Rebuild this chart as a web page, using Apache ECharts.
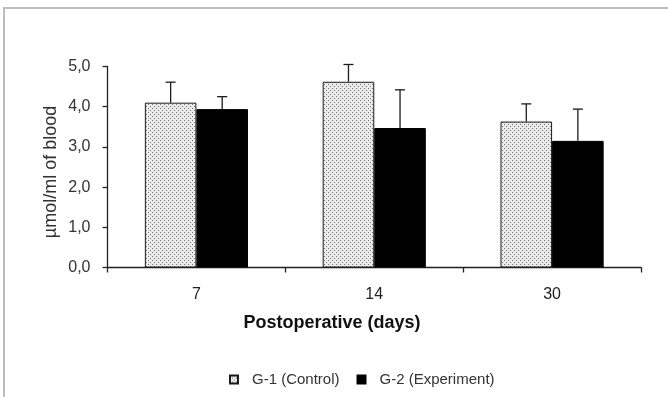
<!DOCTYPE html>
<html><head><meta charset="utf-8">
<script src="https://cdn.jsdelivr.net/npm/echarts@6/dist/echarts.min.js"></script>
<style>html,body{margin:0;padding:0;background:#fff}#c{width:668px;height:397px}</style>
</head><body><div id="c"></div>
<script>
const categories = ['7', '14', '30'];
const seriesNames = ['G-1 (Control)', 'G-2 (Experiment)'];
const g1Values = [4.10, 4.62, 3.63];
const g1Errors = [0.51, 0.43, 0.44];
const g2Values = [3.94, 3.47, 3.15];
const g2Errors = [0.31, 0.95, 0.79];
const yTickMin = 0, yTickMax = 5, yTickStep = 1;
const xAxisTitle = 'Postoperative (days)';
const yAxisTitle = 'µmol/ml of blood';

const FONT = '"Liberation Sans", Arial, sans-serif';
const pc = document.createElement('canvas'); pc.width = 4; pc.height = 4;
const pctx = pc.getContext('2d');
pctx.fillStyle = '#ebebeb'; pctx.fillRect(0, 0, 4, 4);
pctx.fillStyle = '#707070'; pctx.fillRect(0, 0, 1, 1); pctx.fillRect(2, 2, 1, 1);
const dotted = { image: pc, repeat: 'repeat' };
const BAR_RATIO = 0.29;

function errSeries(values, errors, side) {
  return {
    type: 'custom', z: 10, silent: true,
    data: values.map((v, i) => [i, v, v + errors[i]]),
    encode: { x: 0, y: [1, 2] },
    renderItem(params, api) {
      const i = api.value(0);
      const base = api.coord([i, api.value(1)]);
      const top = api.coord([i, api.value(2)]);
      const bw = api.size([1, 0])[0] * BAR_RATIO;
      const x = base[0] + side * bw / 2;
      const st = { stroke: '#1a1a1a', lineWidth: 1.3 };
      return { type: 'group', children: [
        { type: 'line', shape: { x1: x, y1: base[1], x2: x, y2: top[1] }, style: st },
        { type: 'line', shape: { x1: x - 5, y1: top[1], x2: x + 5, y2: top[1] }, style: st }
      ]};
    }
  };
}

const chart = echarts.init(document.getElementById('c'));
chart.setOption({
  animation: false,
  backgroundColor: '#fff',
  textStyle: { fontFamily: FONT },
  grid: { left: 107.5, right: 27, top: 66.5, bottom: 129.5 },
  legend: {
    left: 224, top: 367, itemWidth: 8, itemHeight: 8, itemGap: 17,
    icon: 'rect', data: seriesNames,
    textStyle: { fontSize: 15, color: '#333', fontFamily: FONT, padding: [0, 0, 0, 9] }
  },
  xAxis: {
    type: 'category', data: categories,
    axisLine: { lineStyle: { color: '#222', width: 1.3 } },
    axisTick: { show: true, length: 5, lineStyle: { color: '#222', width: 1.3 } },
    axisLabel: { fontSize: 16, color: '#222', margin: 19, fontFamily: FONT }
  },
  yAxis: {
    type: 'value', min: yTickMin, max: yTickMax, interval: yTickStep,
    splitLine: { show: false },
    axisLine: { show: true, lineStyle: { color: '#222', width: 1.3 } },
    axisTick: { show: true, length: 5, lineStyle: { color: '#222', width: 1.3 } },
    axisLabel: { fontSize: 16, color: '#333', margin: 17, fontFamily: FONT,
      formatter: v => v.toFixed(1).replace('.', ',') }
  },
  graphic: [
    { type: 'rect', z: -10, shape: { x: 4, y: 8, width: 800, height: 500 },
      style: { fill: 'none', stroke: '#bdbdbd', lineWidth: 2 } },
    { type: 'text', x: 332, y: 323,
      style: { text: xAxisTitle, font: 'bold 18px ' + FONT, fill: '#111', align: 'center', verticalAlign: 'middle' } },
    { type: 'text', x: 51, y: 172, rotation: Math.PI / 2,
      style: { text: yAxisTitle, font: '18px ' + FONT, fill: '#333', align: 'center', verticalAlign: 'middle' } }
  ],
  series: [
    { name: seriesNames[0], type: 'bar', data: g1Values, barWidth: (BAR_RATIO * 100) + '%', barGap: '0%',
      itemStyle: { color: dotted, borderColor: '#1a1a1a', borderWidth: 1 } },
    { name: seriesNames[1], type: 'bar', data: g2Values, barWidth: (BAR_RATIO * 100) + '%', barGap: '0%',
      itemStyle: { color: '#000', borderColor: '#000', borderWidth: 1 } },
    errSeries(g1Values, g1Errors, -1),
    errSeries(g2Values, g2Errors, 1)
  ]
});
</script></body></html>
